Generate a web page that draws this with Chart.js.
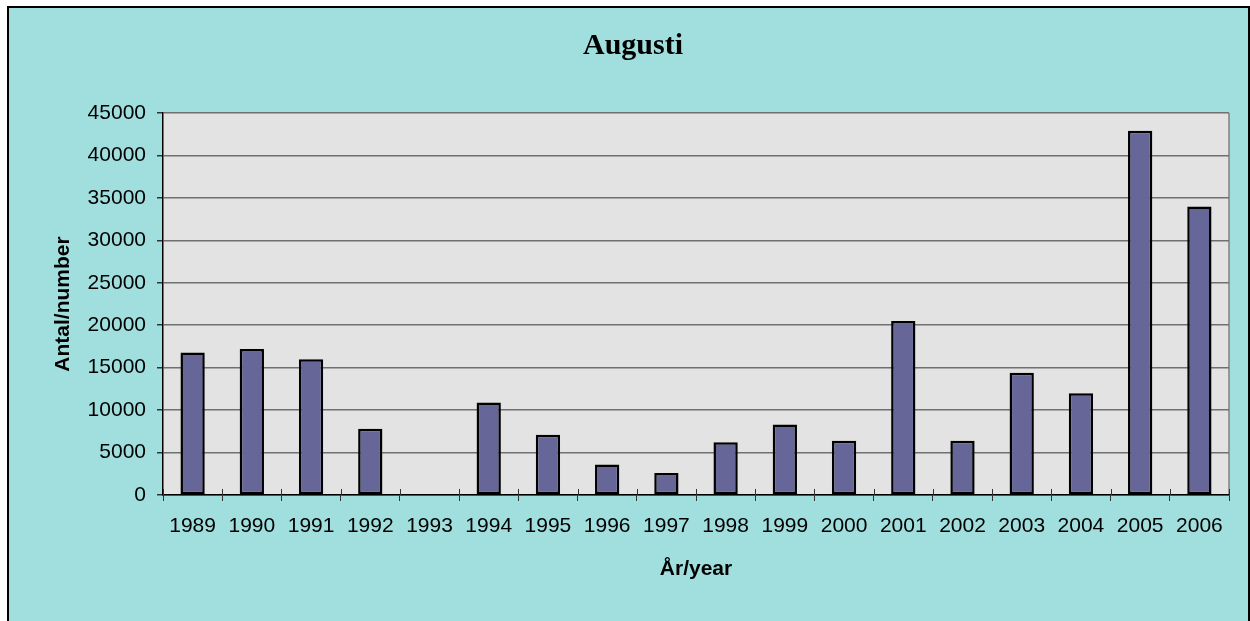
<!DOCTYPE html>
<html lang="sv">
<head>
    <meta charset="UTF-8">
    <title>Augusti</title>
    <script src="https://cdn.jsdelivr.net/npm/chart.js"></script>
    <style>
        body { margin: 0; background: #ffffff; overflow: hidden; }
        #frame {
            position: absolute; left: 7px; top: 6px;
            width: 1239px; height: 640px;
            border: 2px solid #000000;
            background: #a1dfdf;
        }
    </style>
</head>
<body>
    <div id="frame">
        <canvas id="augusti" width="1239" height="613"></canvas>
    </div>

    <script>
        // data
        const years = ['1989', '1990', '1991', '1992', '1993', '1994', '1995', '1996', '1997',
                       '1998', '1999', '2000', '2001', '2002', '2003', '2004', '2005', '2006'];
        const counts = [16800, 17200, 16000, 7800, 0, 10900, 7100, 3600, 2600,
                        6200, 8300, 6400, 20500, 6400, 14400, 12000, 42900, 34000];
        const yMax = 45000;
        const yStep = 5000;

        const sans = '"Liberation Sans", Arial, sans-serif';

        // grey plot area, grey right edge, small x tick marks across the axis
        const plotBg = {
            id: 'plotBg',
            beforeDraw(chart) {
                const { ctx, chartArea: a } = chart;
                ctx.save();
                ctx.fillStyle = '#e3e3e3';
                ctx.fillRect(a.left, a.top, a.right - a.left, a.bottom - a.top);
                ctx.strokeStyle = '#808080';
                ctx.lineWidth = 1.5;
                ctx.beginPath();
                ctx.moveTo(a.right, a.top);
                ctx.lineTo(a.right, a.bottom);
                ctx.stroke();
                ctx.restore();
            },
            afterDatasetsDraw(chart) {
                const { ctx, chartArea: a, scales: { x } } = chart;
                ctx.save();
                ctx.strokeStyle = '#333333';
                ctx.lineWidth = 1;
                ctx.beginPath();
                for (let i = 0; i <= years.length; i++) {
                    const px = Math.round(x.left + i * (x.width / years.length)) + 0.5;
                    ctx.moveTo(px, a.bottom - 6);
                    ctx.lineTo(px, a.bottom);
                }
                ctx.stroke();
                ctx.restore();
            }
        };

        const ctx = document.getElementById('augusti').getContext('2d');
        new Chart(ctx, {
            type: 'bar',
            data: {
                labels: years,
                datasets: [{
                    label: 'Antal',
                    data: counts,
                    backgroundColor: '#666699',
                    borderColor: '#000000',
                    borderWidth: 2.5,
                    borderSkipped: false,
                    barPercentage: 0.41,
                    categoryPercentage: 1
                }]
            },
            options: {
                responsive: false,
                animation: false,
                layout: { padding: { left: 28, right: 19, top: 0, bottom: 0 } },
                plugins: {
                    legend: { display: false },
                    tooltip: { enabled: false },
                    title: {
                        display: true,
                        text: 'Augusti',
                        color: '#000000',
                        font: { family: '"Liberation Serif", "Times New Roman", serif', size: 30, weight: 'bold' },
                        padding: { top: 20, bottom: 49 }
                    }
                },
                scales: {
                    x: {
                        offset: true,
                        grid: {
                            offset: true,
                            drawOnChartArea: false,
                            drawTicks: true,
                            tickLength: 6,
                            tickColor: '#333333'
                        },
                        border: { color: '#000000', width: 1.5 },
                        ticks: {
                            color: '#000000',
                            padding: 13,
                            maxRotation: 0,
                            font: { family: sans, size: 21 }
                        },
                        title: {
                            display: true,
                            text: 'År/year',
                            color: '#000000',
                            font: { family: sans, size: 21, weight: 'bold' },
                            padding: { top: 0, bottom: 39 }
                        },
                        afterFit(scale) { scale.height = 126; }
                    },
                    y: {
                        min: 0,
                        max: yMax,
                        grid: {
                            color: '#707070',
                            lineWidth: 1.5,
                            tickLength: 6,
                            tickColor: '#333333'
                        },
                        border: { color: '#000000', width: 1.5 },
                        ticks: {
                            stepSize: yStep,
                            color: '#000000',
                            padding: 11,
                            font: { family: sans, size: 21 },
                            callback: (v) => String(v)
                        },
                        title: {
                            display: true,
                            text: 'Antal/number',
                            color: '#000000',
                            font: { family: sans, size: 21, weight: 'bold' },
                            padding: { top: 14, bottom: 0 }
                        },
                        afterFit(scale) { scale.width = 126; }
                    }
                }
            },
            plugins: [plotBg]
        });
    </script>
</body>
</html>
